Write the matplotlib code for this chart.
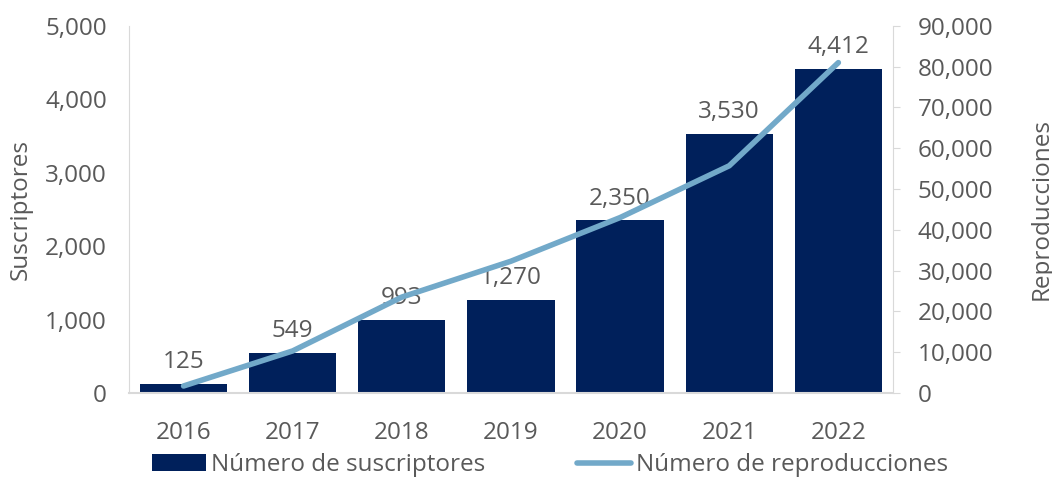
import numpy as np
import matplotlib
matplotlib.use("Agg")
import matplotlib.pyplot as plt
from matplotlib.ticker import FuncFormatter

plt.rcParams['font.family'] = ['Open Sans', 'DejaVu Sans']

years = ['2016', '2017', '2018', '2019', '2020', '2021', '2022']
suscriptores = [125, 549, 993, 1270, 2350, 3530, 4412]
reproducciones = [1700, 10300, 23500, 32300, 43000, 55700, 81000]

bar_color = '#00205b'
line_color = '#72a9c9'
text_color = '#595959'
spine_color = '#d9d9d9'
fs = 17.5

fig = plt.figure(figsize=(10.52, 4.78), dpi=100)
ax = fig.add_axes([0.1226, 0.178, 0.7262, 0.7678])
ax2 = ax.twinx()

x = np.arange(len(years))
bars = ax.bar(x, suscriptores, width=0.8, color=bar_color, label='Número de suscriptores', zorder=2)
line, = ax2.plot(x, reproducciones, color=line_color, lw=4, label='Número de reproducciones',
                 solid_capstyle='round', zorder=3)

for xi, v in zip(x, suscriptores):
    ax.annotate(f'{v:,}', (xi, v), xytext=(0, 7), textcoords='offset points',
                ha='center', va='bottom', fontsize=fs, color=text_color)

ax.set_xlim(-0.5, len(years) - 0.5)
ax.set_ylim(0, 5000)
ax.set_yticks(range(0, 5001, 1000))
ax2.set_ylim(0, 90000)
ax2.set_yticks(range(0, 90001, 10000))
fmt = FuncFormatter(lambda v, p: f'{int(v):,}')
ax.yaxis.set_major_formatter(fmt)
ax2.yaxis.set_major_formatter(fmt)

ax.set_xticks(x)
ax.set_xticklabels(years)

for a in (ax, ax2):
    for s in a.spines.values():
        s.set_visible(False)
    a.tick_params(colors=text_color, labelsize=fs)
ax.spines['left'].set_visible(True)
ax.spines['left'].set_color(spine_color)
ax.spines['bottom'].set_visible(True)
ax.spines['bottom'].set_color(spine_color)
ax.spines['bottom'].set_linewidth(1.5)
ax2.spines['right'].set_visible(True)
ax2.spines['right'].set_color(spine_color)
ax.tick_params(axis='y', length=0, pad=16)
ax.tick_params(axis='x', length=0, pad=20)
ax2.tick_params(axis='y', length=5, color=spine_color, pad=13)

ax.set_ylabel('Suscriptores', fontsize=fs, color=text_color, labelpad=9)
ax2.set_ylabel('Reproducciones', fontsize=fs, color=text_color, labelpad=26)

fig.legend([bars, line], ['Número de suscriptores', 'Número de reproducciones'],
           loc='center', bbox_to_anchor=(0.523, 0.027), ncol=2, frameon=False,
           fontsize=fs, labelcolor=text_color, handlelength=2.2, handletextpad=0.2,
           columnspacing=3.8)

fig.savefig('out.png', dpi=100)
